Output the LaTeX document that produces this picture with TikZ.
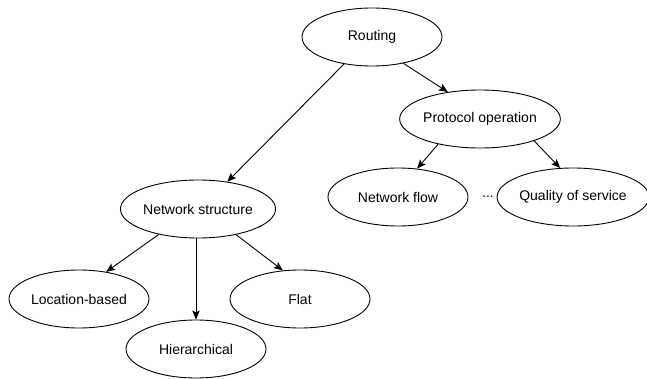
\documentclass[tikz,border=0pt]{standalone}
\usepackage{fontspec}
\setmainfont{Liberation Sans}
\usetikzlibrary{shapes.geometric,arrows.meta}
\begin{document}
\begin{tikzpicture}[x=1pt,y=-1pt,
  oval/.style={draw=black,line width=0.9pt,ellipse,minimum width=140pt,minimum height=58pt,inner sep=0pt,font=\fontsize{14}{16}\selectfont},
  plain/.style={inner sep=0pt,font=\fontsize{14}{16}\selectfont},
  conn/.style={draw=black,line width=0.9pt,-{Stealth[length=9pt,width=7.5pt,inset=2pt]}}]
\useasboundingbox (0,0) rectangle (647,379);
\node[oval] (r) at (372,37) {Routing};
\node[oval] (p) at (480,119) {Protocol operation};
\node[oval] (nf) at (398,197) {Network flow};
\node[oval] (q) at (573,197) {Quality of service};
\node[plain] (dots) at (488,197) {...};
\node[oval] (ns) at (198,209) {Network structure};
\node[oval] (lb) at (79,299) {Location-based};
\node[oval] (h) at (196,349) {Hierarchical};
\node[oval] (f) at (300,299) {Flat};
\draw[conn] (r.224) -- (ns.43);
\draw[conn] (r.320.7) -- (p.140.7);
\draw[conn] (p.211) -- (nf.56.8);
\draw[conn] (p.338) -- (q.114);
\draw[conn] (ns.213.7) -- (lb.45);
\draw[conn] (ns.south -| h.north) -- (h.north);
\draw[conn] (ns.326) -- (f.121.8);
\end{tikzpicture}
\end{document}
